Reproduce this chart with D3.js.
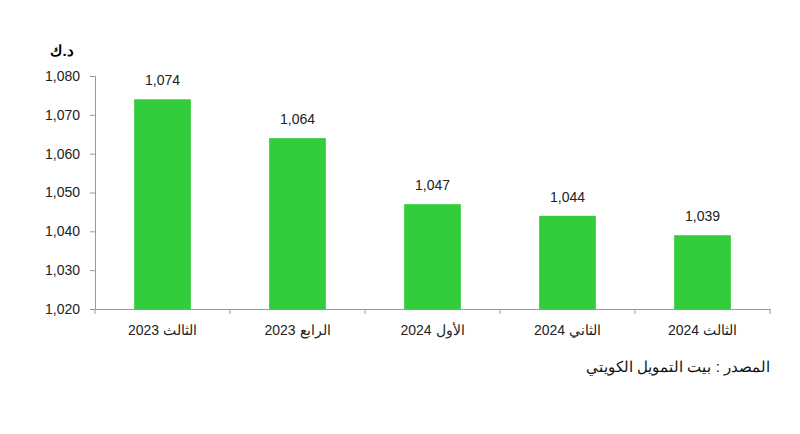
<!DOCTYPE html>
<html><head><meta charset="utf-8">
<script src="https://cdn.jsdelivr.net/npm/d3@7"></script>
<style>body{margin:0;background:#fff}text{font-family:"Liberation Sans",Arial,sans-serif}</style>
</head><body>
<script>
var quarters = ["الثالث 2023", "الرابع 2023", "الأول 2024", "الثاني 2024", "الثالث 2024"];
var values = [1074, 1064, 1047, 1044, 1039];
var yTicks = [1020, 1030, 1040, 1050, 1060, 1070, 1080];

var width = 800, height = 434;
var margin = { top: 76, right: 30, bottom: 125, left: 95 };

var svg = d3.select("body").append("svg")
    .attr("width", width)
    .attr("height", height);

var x = d3.scaleBand().domain(quarters).range([margin.left, width - margin.right]).paddingInner(0.58).paddingOuter(0.29);
var y = d3.scaleLinear().domain([1020, 1080]).range([height - margin.bottom, margin.top]);
var fmt = d3.format(",");

var yAxis = svg.append("g")
    .attr("transform", "translate(" + margin.left + ",0)")
    .call(d3.axisLeft(y).tickValues(yTicks).tickFormat(fmt).tickSize(5).tickPadding(10));
yAxis.selectAll("text").style("font-size", "14px").attr("fill", "#222");

var band = d3.scaleBand().domain(quarters).range([margin.left, width - margin.right]);
var xAxis = svg.append("g")
    .attr("transform", "translate(0," + y(1020) + ")")
    .call(d3.axisBottom(band).tickSize(0).tickFormat(""));
xAxis.selectAll(".tick").remove();
var edges = quarters.map(function (q) { return band(q); }).concat([width - margin.right]);
xAxis.selectAll("line.sep").data(edges).enter().append("line")
    .attr("x1", function (d) { return d; }).attr("x2", function (d) { return d; })
    .attr("y1", 0).attr("y2", 5).attr("stroke", "#999");
svg.selectAll(".domain").attr("stroke", "#999");
svg.selectAll(".tick line").attr("stroke", "#999");

svg.selectAll("text.xl").data(quarters).enter().append("text")
    .attr("x", function (d) { return band(d) + band.bandwidth() / 2; })
    .attr("y", y(1020) + 26)
    .attr("text-anchor", "middle")
    .attr("direction", "rtl")
    .style("font-size", "14px").attr("fill", "#222")
    .text(function (d) { return d; });

svg.selectAll("rect.bar").data(values).enter().append("rect")
    .attr("x", function (d, i) { return x(quarters[i]); })
    .attr("width", x.bandwidth())
    .attr("y", function (d) { return y(d); })
    .attr("height", function (d) { return y(1020) - y(d); })
    .attr("fill", "#33cc3d");

svg.selectAll("text.val").data(values).enter().append("text")
    .attr("x", function (d, i) { return x(quarters[i]) + x.bandwidth() / 2; })
    .attr("y", function (d) { return y(d) - 14; })
    .attr("text-anchor", "middle")
    .style("font-size", "14px").attr("fill", "#222")
    .text(fmt);

svg.append("text").attr("x", 62).attr("y", 56).attr("text-anchor", "middle")
    .attr("direction", "rtl")
    .style("font-size", "15px").style("font-weight", "bold").text("د.ك");

svg.append("text").attr("x", 770).attr("y", 372).attr("text-anchor", "start")
    .attr("direction", "rtl")
    .style("font-size", "15px").attr("fill", "#111").text("المصدر : بيت التمويل الكويتي");
</script>
</body></html>
